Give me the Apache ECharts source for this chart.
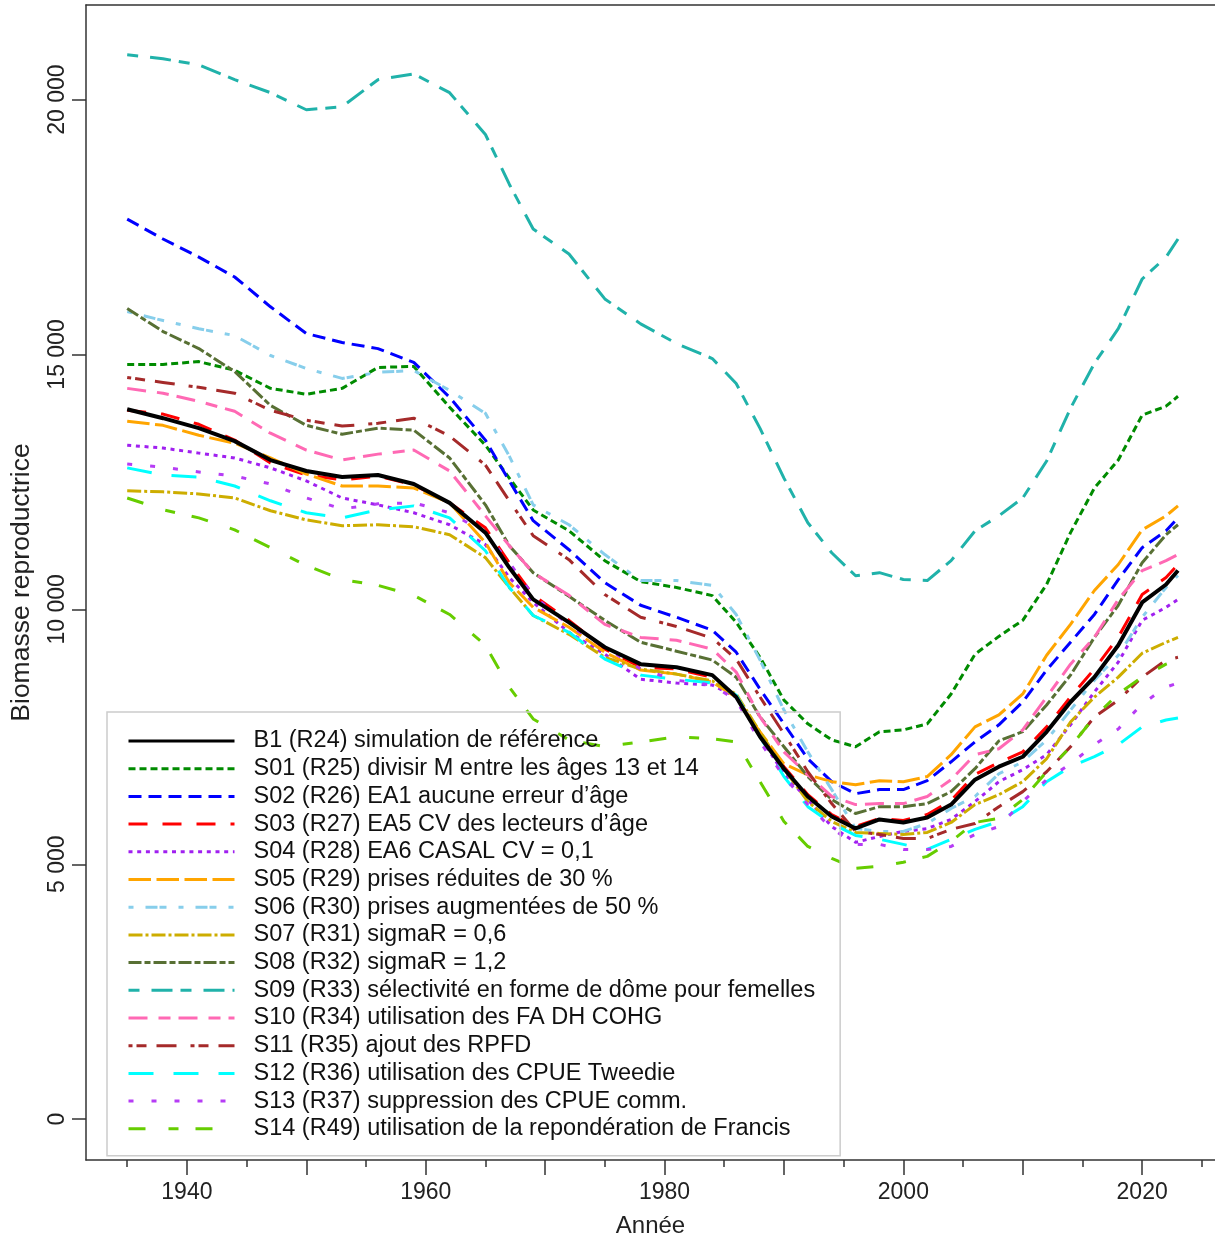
<!DOCTYPE html>
<html>
<head>
<meta charset="utf-8">
<script src="https://cdn.jsdelivr.net/npm/echarts@6/dist/echarts.min.js"></script>
<style>
  html, body { margin: 0; padding: 0; background: #fff; }
  #chart { width: 1215px; height: 1243px; }
</style>
</head>
<body>
<div id="chart"></div>
<script>
const years = [1935, 1938, 1941, 1944, 1947, 1950, 1953, 1956, 1959, 1962, 1965, 1967, 1969, 1972, 1975, 1978, 1981, 1984, 1986, 1988,
  1990, 1992, 1994, 1996, 1998, 2000, 2002, 2004, 2006, 2008, 2010, 2012, 2014, 2016, 2018, 2020, 2022, 2023]

const b1 = [13925, 13750, 13554, 13300, 12929, 12714, 12597, 12636, 12460, 12089, 11503, 10820, 10195, 9745, 9257, 8925, 8866, 8710, 8281, 7500,
  6875, 6328, 5937, 5703, 5879, 5820, 5918, 6171, 6660, 6914, 7109, 7597, 8183, 8671, 9296, 10136, 10488, 10761]
const s01 = [14805, 14805, 14860, 14690, 14335, 14220, 14335, 14745, 14765, 13965, 13220, 12575, 11950, 11540, 10955, 10545, 10430, 10270, 9745, 9060,
  8220, 7755, 7440, 7305, 7600, 7635, 7755, 8340, 9120, 9470, 9785, 10490, 11505, 12380, 12930, 13810, 13985, 14180]
const s02 = [17655, 17265, 16910, 16520, 15935, 15410, 15235, 15115, 14845, 14160, 13320, 12520, 11740, 11170, 10525, 10080, 9845, 9590, 9160, 8435,
  7755, 7070, 6620, 6385, 6465, 6465, 6640, 7010, 7400, 7735, 8185, 8810, 9355, 9900, 10585, 11210, 11540, 11795]
const s03 = [13905, 13830, 13630, 13320, 12870, 12635, 12540, 12615, 12440, 12090, 11600, 10915, 10275, 9785, 9220, 8865, 8830, 8670, 8280, 7540,
  6915, 6365, 5975, 5740, 5900, 5860, 5975, 6250, 6760, 6995, 7205, 7695, 8280, 8830, 9455, 10290, 10625, 10880]
const s04 = [13220, 13165, 13065, 12970, 12775, 12520, 12185, 12050, 11895, 11660, 11270, 10625, 10135, 9550, 9120, 8630, 8555, 8515, 8280, 7500,
  6775, 6270, 5740, 5430, 5545, 5645, 5700, 5880, 6230, 6620, 6855, 7150, 7735, 8380, 8965, 9785, 10040, 10195]
const s05 = [13690, 13610, 13415, 13260, 12970, 12655, 12420, 12420, 12380, 12090, 11310, 10525, 10040, 9650, 9160, 8810, 8730, 8575, 8280, 7595,
  6970, 6755, 6620, 6560, 6640, 6620, 6720, 7150, 7695, 7930, 8340, 9100, 9705, 10370, 10880, 11560, 11835, 12030]
const s06 = [15840, 15665, 15505, 15370, 14980, 14725, 14530, 14650, 14685, 14295, 13845, 13005, 12050, 11660, 11075, 10565, 10565, 10470, 9900, 9005,
  8025, 7205, 6465, 5700, 5645, 5645, 5800, 6095, 6330, 6775, 7010, 7440, 8025, 8610, 9100, 9845, 10430, 10665]
const s07 = [12325, 12305, 12265, 12185, 11935, 11755, 11640, 11660, 11620, 11465, 11015, 10430, 9880, 9510, 9060, 8830, 8730, 8595, 8340, 7595,
  6875, 6230, 5840, 5625, 5605, 5585, 5625, 5820, 6170, 6365, 6620, 7070, 7790, 8280, 8670, 9140, 9355, 9450]
const s08 = [15900, 15450, 15115, 14665, 14000, 13610, 13435, 13555, 13515, 12970, 12050, 11250, 10720, 10255, 9785, 9355, 9180, 9005, 8670, 7890,
  7305, 6720, 6270, 5995, 6130, 6130, 6190, 6425, 6875, 7420, 7600, 8125, 8710, 9450, 10080, 10915, 11465, 11660]
const s09 = [20877, 20800, 20680, 20390, 20135, 19800, 19860, 20390, 20505, 20135, 19315, 18340, 17460, 16970, 16090, 15600, 15215, 14920, 14430, 13550,
  12575, 11700, 11110, 10660, 10720, 10585, 10565, 10955, 11540, 11835, 12185, 12910, 13945, 14825, 15505, 16480, 16910, 17265]
const s10 = [14335, 14240, 14080, 13885, 13455, 13125, 12930, 13045, 13125, 12715, 11835, 11250, 10720, 10275, 9705, 9450, 9395, 9220, 8770, 7890,
  7205, 6755, 6330, 6170, 6190, 6190, 6330, 6660, 7150, 7265, 7635, 8280, 8925, 9450, 10195, 10760, 10955, 11075]
const s11 = [14550, 14450, 14355, 14240, 13905, 13710, 13595, 13650, 13750, 13400, 12830, 12130, 11445, 10975, 10290, 9845, 9665, 9435, 9025, 8280,
  7560, 6815, 6190, 5645, 5585, 5505, 5505, 5685, 5800, 6130, 6425, 6815, 7305, 7890, 8220, 8670, 9005, 9060]
const s12 = [12775, 12635, 12595, 12420, 12130, 11895, 11795, 11950, 12030, 11795, 11150, 10430, 9880, 9550, 9025, 8710, 8630, 8555, 8320, 7500,
  6720, 6130, 5800, 5565, 5490, 5390, 5290, 5490, 5685, 5840, 6130, 6620, 6915, 7110, 7345, 7695, 7830, 7870]
const s13 = [12850, 12790, 12695, 12615, 12460, 12185, 11970, 12070, 12090, 11895, 11505, 10915, 10275, 9685, 9255, 8830, 8610, 8515, 8220, 7400,
  6720, 6170, 5700, 5390, 5390, 5290, 5290, 5350, 5585, 5740, 6230, 6660, 6970, 7345, 7655, 8145, 8475, 8555]
const s14 = [12185, 11955, 11795, 11560, 11210, 10860, 10585, 10470, 10275, 9900, 9295, 8475, 7850, 7440, 7305, 7400, 7500, 7460, 7400, 6620,
  5840, 5350, 5115, 4920, 4960, 5040, 5155, 5450, 5820, 5900, 6270, 6815, 7305, 7890, 8340, 8670, 8925, 9005]

const names = [
  'B1 (R24) simulation de référence',
  'S01 (R25) divisir M entre les âges 13 et 14',
  'S02 (R26) EA1 aucune erreur d\u2019âge',
  'S03 (R27) EA5 CV des lecteurs d\u2019âge',
  'S04 (R28) EA6 CASAL CV = 0,1',
  'S05 (R29) prises réduites de 30 %',
  'S06 (R30) prises augmentées de 50 %',
  'S07 (R31) sigmaR = 0,6',
  'S08 (R32) sigmaR = 1,2',
  'S09 (R33) sélectivité en forme de dôme pour femelles',
  'S10 (R34) utilisation des FA DH COHG',
  'S11 (R35) ajout des RPFD',
  'S12 (R36) utilisation des CPUE Tweedie',
  'S13 (R37) suppression des CPUE comm.',
  'S14 (R49) utilisation de la repondération de Francis',
]
const values = [b1, s01, s02, s03, s04, s05, s06, s07, s08, s09, s10, s11, s12, s13, s14]

const xLabelYears = [1940, 1960, 1980, 2000, 2020]
const xMajorTicks = [1940, 1950, 1960, 1970, 1980, 1990, 2000, 2010, 2020]
const xMinorTicks = [1935, 1945, 1955, 1965, 1975, 1985, 1995, 2005, 2015, 2025]
const yTicks = [0, 5000, 10000, 15000, 20000]

// line look for each curve (colour, dash pattern, width)
const styles = [
  { color: '#000000', dash: 'solid', width: 4 },
  { color: '#008B00', dash: [7, 4], width: 3 },
  { color: '#0000FF', dash: [13, 7], width: 3 },
  { color: '#FF0000', dash: [19, 15], width: 3 },
  { color: '#A020F0', dash: [4, 4.7], width: 3 },
  { color: '#FFA500', dash: [22.5, 5.5], width: 3 },
  { color: '#87CEEB', dash: [5, 12, 12, 2, 7, 12], width: 3 },
  { color: '#CDAD00', dash: [14, 3, 3, 3], width: 3 },
  { color: '#587034', dash: [13, 3, 6, 3], width: 3 },
  { color: '#20B2AA', dash: [11, 12, 21, 8], width: 3 },
  { color: '#FF69B4', dash: [19, 11, 12, 8], width: 3 },
  { color: '#A52A2A', dash: [4, 4, 10, 10, 20, 14], width: 3 },
  { color: '#00FFFF', dash: [25, 20], width: 3 },
  { color: '#B63CF5', dash: [5, 18], width: 3 },
  { color: '#66CD00', dash: [17, 23, 10, 17], width: 3 },
]

const FONT = '"Liberation Sans", Arial, Helvetica, sans-serif'
const X_MIN = 1931.55, X_MAX = 2026.1
const Y_MIN = -801, Y_MAX = 21855
const axisColor = '#333333'
const fmt = v => String(v).replace(/\B(?=(\d{3})+(?!\d))/g, ' ')

const chart = echarts.init(document.getElementById('chart'))

const series = names.map((name, i) => ({
  name: name,
  type: 'line',
  xAxisIndex: 0,
  data: years.map((y, k) => [y, values[i][k]]),
  symbol: 'none',
  z: i === 0 ? 5 : 2,
  silent: true,
  lineStyle: { color: styles[i].color, width: styles[i].width, type: styles[i].dash, cap: 'butt', join: 'round' },
  itemStyle: { color: styles[i].color },
}))

chart.setOption({
  animation: false,
  backgroundColor: '#ffffff',
  textStyle: { fontFamily: FONT },
  grid: { left: 85, right: 0, top: 5, bottom: 78, containLabel: false },
  legend: {
    orient: 'vertical',
    left: 107,
    top: 712,
    padding: [17, 25, 15, 20],
    itemWidth: 106,
    itemHeight: 14,
    itemGap: 3.7,
    borderColor: '#cccccc',
    borderWidth: 1.5,
    selectedMode: false,
    lineStyle: { width: 3 },
    itemStyle: { opacity: 0, borderWidth: 0 },
    textStyle: { fontSize: 23.5, fontFamily: FONT, color: '#111', lineHeight: 24, padding: [0, 0, 0, 14] },
    data: names,
  },
  xAxis: [
    {
      type: 'value', min: X_MIN, max: X_MAX, position: 'bottom',
      axisLine: { show: true, onZero: false, lineStyle: { color: axisColor, width: 1.5 } },
      axisTick: { show: true, length: 15, customValues: xMajorTicks, lineStyle: { color: axisColor, width: 1.5 } },
      axisLabel: { customValues: xLabelYears, formatter: v => String(v), margin: 21, fontSize: 23, color: '#222', fontFamily: FONT },
      splitLine: { show: false },
      name: 'Année', nameLocation: 'middle', nameGap: 54,
      nameTextStyle: { fontSize: 24, color: '#222', fontFamily: FONT },
    },
    {
      type: 'value', min: X_MIN, max: X_MAX, position: 'bottom',
      axisLine: { show: false, onZero: false },
      axisTick: { show: true, length: 7, customValues: xMinorTicks, lineStyle: { color: axisColor, width: 1.5 } },
      axisLabel: { show: false },
      splitLine: { show: false },
    },
    {
      type: 'value', min: X_MIN, max: X_MAX, position: 'top',
      axisLine: { show: true, onZero: false, lineStyle: { color: axisColor, width: 1.5 } },
      axisTick: { show: false },
      axisLabel: { show: false },
      splitLine: { show: false },
    },
  ],
  yAxis: {
    type: 'value', min: Y_MIN, max: Y_MAX,
    axisLine: { show: true, onZero: false, lineStyle: { color: axisColor, width: 1.5 } },
    axisTick: { show: true, length: 14, customValues: yTicks, lineStyle: { color: axisColor, width: 1.5 } },
    axisLabel: { customValues: yTicks, rotate: 90, formatter: fmt, margin: 17, fontSize: 23, color: '#222', fontFamily: FONT },
    splitLine: { show: false },
    name: 'Biomasse reproductrice', nameLocation: 'middle', nameGap: 51,
    nameTextStyle: { fontSize: 26.5, color: '#222', fontFamily: FONT },
  },
  series: series,
})
</script>
</body>
</html>
